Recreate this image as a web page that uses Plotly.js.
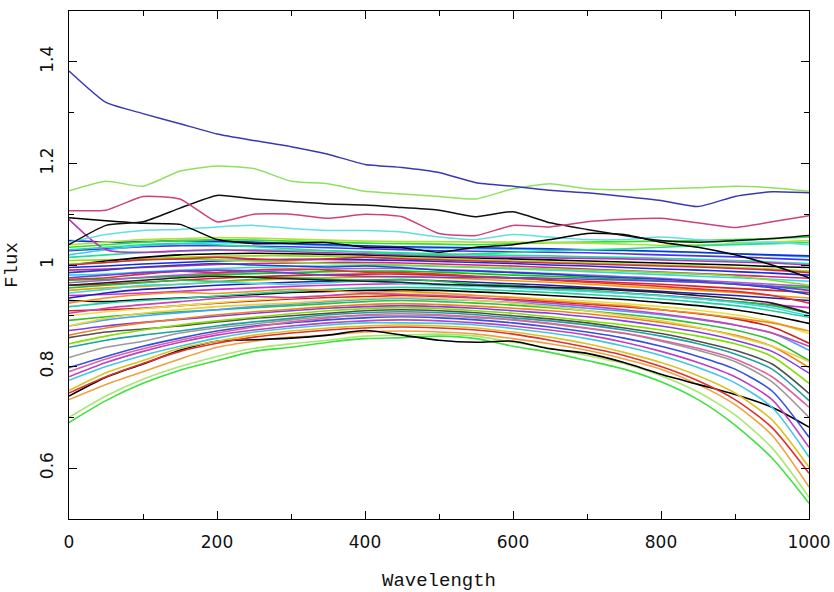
<!DOCTYPE html>
<html>
<head>
<meta charset="utf-8">
<script src="https://cdn.plot.ly/plotly-3.0.1.min.js"></script>
<style>html,body{margin:0;padding:0;background:#fff;}#chart{width:834px;height:592px;}</style>
</head>
<body>
<div id="chart"></div>
<script>
// x grid (Wavelength)
const wavelength = [0,50,100,150,200,250,300,350,400,450,500,550,600,650,700,750,800,850,900,950,1000];

// Outlier spectra (top)
const fluxTopBlue  = [1.382,1.320,1.298,1.278,1.258,1.245,1.233,1.218,1.198,1.192,1.182,1.162,1.155,1.147,1.142,1.135,1.127,1.115,1.135,1.144,1.142];
const fluxTopGreen = [1.146,1.165,1.155,1.185,1.195,1.190,1.165,1.160,1.145,1.140,1.135,1.130,1.150,1.160,1.150,1.148,1.150,1.152,1.155,1.152,1.145];
const fluxTopPink  = [1.107,1.108,1.135,1.130,1.085,1.100,1.100,1.092,1.100,1.095,1.062,1.058,1.078,1.075,1.085,1.090,1.092,1.083,1.074,1.085,1.097];
const fluxTopBlack = [1.040,1.078,1.085,1.112,1.137,1.130,1.125,1.120,1.118,1.113,1.108,1.095,1.105,1.083,1.070,1.058,1.048,1.045,1.048,1.052,1.058];
const fluxBlack2   = [1.093,1.087,1.082,1.080,1.050,1.042,1.043,1.044,1.035,1.034,1.025,1.035,1.040,1.050,1.062,1.060,1.045,1.035,1.020,1.000,0.975];
const fluxCyan1    = [1.045,1.060,1.068,1.070,1.075,1.078,1.072,1.068,1.068,1.065,1.055,1.050,1.060,1.055,1.050,1.050,1.055,1.050,1.045,1.045,1.040];

// Main band (bottom to top)
const fluxB01 = [0.690,0.733,0.767,0.793,0.812,0.830,0.838,0.848,0.855,0.857,0.860,0.855,0.840,0.828,0.812,0.795,0.770,0.735,0.685,0.620,0.531];
const fluxB02 = [0.700,0.742,0.775,0.800,0.820,0.836,0.845,0.852,0.860,0.862,0.864,0.860,0.848,0.836,0.822,0.806,0.782,0.750,0.705,0.640,0.543];
const fluxB03 = [0.735,0.765,0.790,0.815,0.838,0.850,0.858,0.862,0.868,0.870,0.868,0.864,0.855,0.845,0.832,0.815,0.795,0.765,0.725,0.665,0.563];
const fluxB04 = [0.742,0.779,0.805,0.832,0.850,0.853,0.856,0.862,0.871,0.862,0.852,0.848,0.850,0.835,0.826,0.808,0.785,0.765,0.745,0.720,0.681];
const fluxB05 = [0.748,0.780,0.806,0.830,0.846,0.858,0.866,0.872,0.876,0.878,0.876,0.872,0.864,0.852,0.838,0.822,0.800,0.772,0.735,0.680,0.590];
const fluxB06 = [0.753,0.788,0.812,0.836,0.850,0.862,0.870,0.876,0.880,0.882,0.880,0.876,0.868,0.858,0.845,0.828,0.808,0.782,0.748,0.695,0.602];
const fluxB07 = [0.773,0.800,0.822,0.840,0.856,0.868,0.876,0.882,0.886,0.886,0.885,0.882,0.875,0.866,0.855,0.840,0.822,0.798,0.768,0.720,0.622];
const fluxB08 = [0.780,0.808,0.830,0.848,0.862,0.872,0.880,0.886,0.890,0.892,0.890,0.886,0.880,0.872,0.862,0.848,0.830,0.808,0.780,0.735,0.641];
const fluxB09 = [0.798,0.820,0.840,0.856,0.870,0.880,0.886,0.892,0.896,0.898,0.896,0.892,0.886,0.878,0.868,0.856,0.840,0.820,0.795,0.752,0.661];
const fluxB10 = [0.818,0.838,0.850,0.866,0.876,0.884,0.892,0.898,0.900,0.900,0.900,0.896,0.892,0.884,0.875,0.865,0.850,0.832,0.810,0.770,0.700];
const fluxB11 = [0.790,0.815,0.835,0.852,0.866,0.878,0.888,0.896,0.902,0.904,0.902,0.898,0.892,0.885,0.876,0.866,0.852,0.836,0.815,0.780,0.720];
const fluxB12 = [0.838,0.852,0.862,0.870,0.880,0.888,0.895,0.902,0.906,0.908,0.906,0.902,0.896,0.890,0.882,0.872,0.860,0.845,0.825,0.795,0.733];
const fluxB13 = [0.857,0.868,0.874,0.880,0.888,0.895,0.900,0.905,0.910,0.912,0.910,0.906,0.900,0.894,0.886,0.876,0.865,0.850,0.832,0.805,0.747];
const fluxB14 = [0.845,0.860,0.872,0.882,0.890,0.897,0.904,0.910,0.914,0.916,0.914,0.910,0.905,0.898,0.890,0.882,0.872,0.860,0.845,0.820,0.767];
const fluxB15 = [0.871,0.880,0.887,0.893,0.899,0.905,0.910,0.915,0.918,0.920,0.918,0.915,0.910,0.905,0.898,0.890,0.880,0.868,0.852,0.830,0.787];
const fluxB16 = [0.862,0.876,0.886,0.894,0.902,0.908,0.913,0.918,0.922,0.924,0.922,0.919,0.915,0.910,0.904,0.896,0.887,0.876,0.862,0.840,0.798];
const fluxB17 = [0.891,0.898,0.904,0.908,0.912,0.916,0.920,0.924,0.928,0.930,0.928,0.925,0.921,0.916,0.910,0.903,0.895,0.885,0.872,0.852,0.812];
const fluxB18 = [0.880,0.892,0.900,0.906,0.912,0.918,0.923,0.928,0.932,0.934,0.932,0.930,0.926,0.921,0.915,0.909,0.902,0.893,0.882,0.866,0.832];
const fluxB19 = [0.910,0.912,0.915,0.920,0.925,0.929,0.933,0.936,0.938,0.940,0.938,0.935,0.932,0.928,0.923,0.918,0.912,0.904,0.894,0.878,0.846];
const fluxB20 = [0.900,0.908,0.914,0.920,0.926,0.931,0.935,0.939,0.942,0.944,0.943,0.940,0.937,0.933,0.929,0.924,0.918,0.911,0.902,0.888,0.865];
const fluxB21 = [0.930,0.928,0.932,0.935,0.938,0.942,0.946,0.948,0.950,0.951,0.950,0.947,0.944,0.940,0.936,0.932,0.926,0.920,0.912,0.900,0.885];
const fluxB22 = [0.918,0.925,0.930,0.934,0.939,0.944,0.948,0.952,0.955,0.956,0.955,0.952,0.949,0.946,0.942,0.938,0.933,0.927,0.920,0.910,0.897];
const fluxB23 = [0.940,0.942,0.945,0.948,0.952,0.955,0.958,0.960,0.962,0.963,0.962,0.959,0.956,0.953,0.949,0.945,0.940,0.935,0.928,0.922,0.916];
const fluxB24 = [0.935,0.945,0.952,0.956,0.960,0.963,0.966,0.968,0.970,0.971,0.969,0.966,0.963,0.960,0.956,0.952,0.948,0.944,0.940,0.935,0.930];
const fluxB25 = [0.950,0.955,0.958,0.962,0.966,0.970,0.973,0.975,0.976,0.977,0.975,0.972,0.969,0.966,0.962,0.958,0.954,0.950,0.946,0.940,0.935];
const fluxB26 = [0.960,0.962,0.966,0.970,0.974,0.977,0.979,0.981,0.982,0.982,0.980,0.977,0.974,0.971,0.968,0.965,0.962,0.958,0.954,0.950,0.946];
const fluxB27 = [0.970,0.972,0.975,0.978,0.981,0.983,0.985,0.987,0.988,0.988,0.986,0.983,0.980,0.978,0.975,0.972,0.969,0.966,0.962,0.958,0.955];
const fluxB28 = [0.965,0.970,0.976,0.980,0.984,0.987,0.990,0.992,0.993,0.993,0.991,0.989,0.986,0.983,0.980,0.977,0.974,0.970,0.966,0.962,0.958];
const fluxB29 = [0.980,0.982,0.986,0.990,0.993,0.995,0.997,0.998,0.999,0.999,0.997,0.995,0.992,0.990,0.987,0.984,0.981,0.978,0.975,0.972,0.968];
const fluxB30 = [0.990,0.992,0.995,0.998,1.001,1.003,1.004,1.005,1.005,1.004,1.002,1.000,0.998,0.995,0.992,0.989,0.986,0.983,0.980,0.977,0.974];
const fluxB31 = [0.995,0.998,1.002,1.005,1.008,1.010,1.011,1.011,1.010,1.009,1.007,1.005,1.003,1.000,0.998,0.995,0.992,0.990,0.987,0.984,0.980];
const fluxB32 = [1.009,1.010,1.012,1.015,1.017,1.018,1.018,1.017,1.016,1.014,1.012,1.010,1.008,1.006,1.004,1.002,1.000,0.998,0.995,0.992,0.988];
const fluxB33 = [1.000,1.008,1.015,1.020,1.022,1.023,1.022,1.021,1.020,1.018,1.016,1.014,1.012,1.010,1.008,1.006,1.004,1.002,1.000,0.997,0.995];
const fluxB34 = [1.015,1.020,1.024,1.027,1.029,1.030,1.029,1.028,1.026,1.024,1.022,1.020,1.019,1.018,1.016,1.015,1.013,1.011,1.009,1.006,1.003];
const fluxB35 = [1.028,1.032,1.036,1.038,1.038,1.037,1.036,1.034,1.032,1.030,1.028,1.027,1.026,1.025,1.024,1.022,1.020,1.018,1.016,1.013,1.010];
const fluxB36 = [1.020,1.030,1.038,1.042,1.044,1.043,1.041,1.038,1.036,1.034,1.033,1.032,1.031,1.030,1.029,1.028,1.026,1.024,1.022,1.019,1.016];
const fluxB37 = [1.048,1.045,1.046,1.048,1.047,1.045,1.042,1.040,1.038,1.036,1.035,1.034,1.033,1.032,1.030,1.029,1.027,1.025,1.022,1.020,1.018];
const fluxB38 = [1.035,1.040,1.045,1.048,1.050,1.049,1.047,1.045,1.043,1.042,1.041,1.040,1.042,1.044,1.045,1.046,1.047,1.048,1.050,1.052,1.055];
const fluxB39 = [1.040,1.045,1.050,1.052,1.054,1.053,1.051,1.049,1.047,1.046,1.046,1.045,1.045,1.044,1.043,1.041,1.039,1.040,1.042,1.045,1.048];
const fluxB40 = [1.090,1.030,1.025,1.028,1.030,1.028,1.026,1.024,1.022,1.020,1.018,1.016,1.015,1.014,1.013,1.012,1.010,1.008,1.006,1.004,1.000];
const fluxM01 = [0.925,0.935,0.942,0.946,0.944,0.948,0.952,0.950,0.946,0.948,0.945,0.940,0.936,0.930,0.925,0.920,0.912,0.905,0.896,0.886,0.870];
const fluxM02 = [0.955,0.960,0.965,0.970,0.968,0.972,0.975,0.972,0.970,0.972,0.968,0.962,0.960,0.955,0.950,0.945,0.940,0.934,0.928,0.920,0.905];
const fluxM03 = [0.972,0.975,0.982,0.988,0.985,0.990,0.992,0.990,0.986,0.985,0.982,0.978,0.975,0.970,0.966,0.962,0.958,0.953,0.948,0.940,0.925];
const fluxM04 = [0.985,0.990,0.996,1.000,1.003,1.000,0.998,0.996,0.998,0.995,0.990,0.988,0.985,0.982,0.978,0.975,0.972,0.968,0.962,0.955,0.942];
const fluxM05 = [1.002,1.005,1.010,1.012,1.010,1.008,1.006,1.003,1.002,1.000,0.998,0.996,0.994,0.992,0.990,0.988,0.985,0.982,0.978,0.970,0.960];
const fluxM06 = [0.945,0.952,0.960,0.962,0.966,0.964,0.962,0.965,0.968,0.964,0.960,0.958,0.955,0.951,0.948,0.944,0.939,0.933,0.926,0.916,0.900];
const fluxM07 = [0.905,0.915,0.922,0.928,0.934,0.938,0.936,0.940,0.944,0.942,0.940,0.936,0.930,0.925,0.919,0.912,0.904,0.894,0.882,0.866,0.840];
const fluxM08 = [0.880,0.895,0.905,0.912,0.918,0.922,0.925,0.930,0.934,0.936,0.934,0.930,0.925,0.918,0.910,0.900,0.890,0.877,0.860,0.840,0.810];
const fluxM09 = [0.960,0.965,0.970,0.975,0.978,0.976,0.973,0.970,0.968,0.966,0.962,0.960,0.958,0.956,0.954,0.950,0.946,0.940,0.934,0.925,0.905];
const fluxM10 = [1.030,1.035,1.040,1.042,1.040,1.036,1.032,1.028,1.025,1.022,1.020,1.022,1.025,1.028,1.030,1.032,1.035,1.038,1.040,1.042,1.044];
const fluxM11 = [1.000,1.005,1.010,1.012,1.015,1.012,1.010,1.012,1.015,1.012,1.010,1.008,1.006,1.004,1.002,1.000,0.998,0.996,0.993,0.990,0.985];
const fluxM12 = [0.975,0.980,0.985,0.988,0.990,0.988,0.984,0.980,0.978,0.977,0.976,0.975,0.975,0.974,0.972,0.970,0.968,0.966,0.963,0.958,0.950];

const bandSeries = [fluxB01,fluxB02,fluxB03,fluxB04,fluxB05,fluxB06,fluxB07,fluxB08,fluxB09,fluxB10,
  fluxB11,fluxB12,fluxB13,fluxB14,fluxB15,fluxB16,fluxB17,fluxB18,fluxB19,fluxB20,
  fluxB21,fluxB22,fluxB23,fluxB24,fluxB25,fluxB26,fluxB27,fluxB28,fluxB29,fluxB30,
  fluxB31,fluxB32,fluxB33,fluxB34,fluxB35,fluxB36,fluxB37,fluxB38,fluxB39,fluxB40,
  fluxM01,fluxM02,fluxM03,fluxM04,fluxM05,fluxM06,fluxM07,fluxM08,fluxM09,fluxM10,fluxM11,fluxM12];
const bandColors = ['#40e040','#a8e870','#f0a040','#000000','#e03030','#e0c020','#40c8e0','#c040c0','#3050e0','#9a9a9a',
  '#e060a0','#20a0a0','#505050','#80e000','#8040e0','#f08020','#30c030','#40a0ff','#d02020','#e8e040',
  '#000000','#20d0a0','#d030d0','#2020c0','#f0a000','#e02020','#00d000','#a060d0','#30d8e8','#e02080',
  '#1030e0','#90e000','#000000','#20e0a0','#5030f0','#30d0f0','#1030e0','#30e030','#b0e040','#c030c0',
  '#f09020','#20c040','#e03030','#2040d0','#80e020','#40d8e0','#d040b0','#e8d040','#202020','#20e090','#e02050','#7040e0'];

const outlierSeries = [fluxCyan1, fluxBlack2, fluxTopBlack, fluxTopPink, fluxTopGreen, fluxTopBlue];
const outlierColors = ['#60e0e0','#000000','#101010','#d0407a','#90e060','#3a3ab0'];

const traces = [];
bandSeries.forEach((ys, i) => traces.push({x: wavelength, y: ys, type: 'scatter', mode: 'lines',
  line: {color: bandColors[i % bandColors.length], width: 1.6, shape: 'spline', smoothing: 0.7}, hoverinfo: 'skip'}));
outlierSeries.forEach((ys, i) => traces.push({x: wavelength, y: ys, type: 'scatter', mode: 'lines',
  line: {color: outlierColors[i], width: 1.5, shape: 'spline', smoothing: 0.5}, hoverinfo: 'skip'}));

const axisCommon = {showline: true, mirror: 'ticks', linecolor: '#000', linewidth: 1,
  ticks: 'inside', ticklen: 8, tickcolor: '#000', showgrid: false, zeroline: false,
  tickfont: {family: 'DejaVu Sans', size: 17, color: '#111'}};

const layout = {
  width: 834, height: 592,
  margin: {l: 69, r: 25, t: 11, b: 73},
  paper_bgcolor: '#fff', plot_bgcolor: '#fff',
  showlegend: false,
  xaxis: Object.assign({}, axisCommon, {range: [0, 1000], tickvals: [0,200,400,600,800,1000],
    ticktext: ['0','200','400','600','800','1000'], ticklabelstandoff: 8,
    minor: {dtick: 100, ticklen: 5, ticks: 'inside', tickcolor: '#000'},
    title: {text: 'Wavelength', font: {family: 'Liberation Mono', size: 19, color: '#111'}, standoff: 22}}),
  yaxis: Object.assign({}, axisCommon, {range: [0.5, 1.5], tickvals: [0.6,0.8,1,1.2,1.4],
    ticktext: ['0.6','0.8','1','1.2','1.4'], tickangle: -90, ticklabelstandoff: 8,
    minor: {dtick: 0.1, ticklen: 5, ticks: 'inside', tickcolor: '#000'},
    title: {text: 'Flux', font: {family: 'Liberation Mono', size: 19, color: '#111'}, standoff: 14}})
};

Plotly.newPlot('chart', traces, layout, {staticPlot: true, displayModeBar: false});
</script>
</body>
</html>
